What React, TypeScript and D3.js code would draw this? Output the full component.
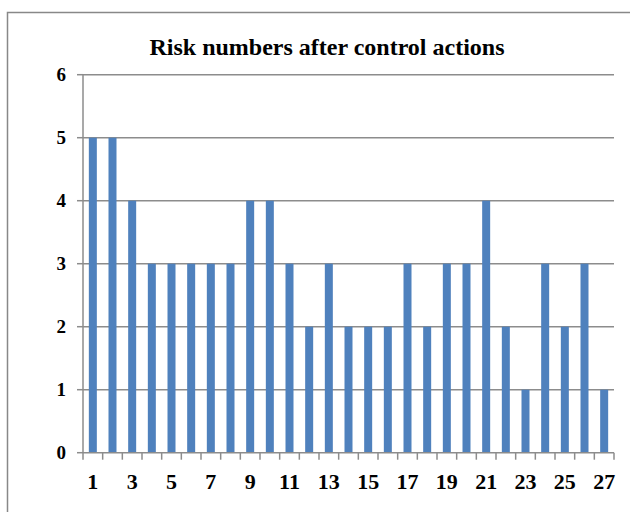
import React from "react";
import * as d3 from "d3";

const categories: number[] = Array.from({ length: 27 }, (_, i) => i + 1);
const riskValues: number[] = [5, 5, 4, 3, 3, 3, 3, 3, 4, 4, 3, 2, 3, 2, 2, 2, 3, 2, 3, 3, 4, 2, 1, 3, 2, 3, 1];
const yTicks: number[] = [0, 1, 2, 3, 4, 5, 6];
const title = "Risk numbers after control actions";

export default function App() {
  const W = 630, H = 512;
  const left = 83, right = 614, top = 74.7, bottom = 452.7;
  const xb = d3.scaleBand<number>().domain(categories).range([left, right]);
  const y = d3.scaleLinear().domain([0, 6]).range([bottom, top]);
  const font = "'Liberation Serif', 'Times New Roman', serif";
  return (
    <svg width={W} height={H} style={{ position: "absolute", left: 0, top: 0 }}>
      <rect x={0} y={0} width={W} height={H} fill="#fff" />
      <path d={`M7.5,${H} V12.5 H${W}`} fill="none" stroke="#888" strokeWidth={1.5} />
      <text x={327} y={55} textAnchor="middle" fontFamily={font} fontWeight="bold" fontSize={24}>{title}</text>
      {yTicks.map((t) => (
        <g key={t}>
          {t > 0 && <line x1={left} x2={right} y1={y(t)} y2={y(t)} stroke="#8c8c8c" strokeWidth={1.5} />}
          <line x1={left - 6} x2={left} y1={y(t)} y2={y(t)} stroke="#8c8c8c" strokeWidth={1.5} />
          <text x={66} y={y(t) + 6} textAnchor="end" fontFamily={font} fontWeight="bold" fontSize={19}>{t}</text>
        </g>
      ))}
      {categories.map((c, i) => (
        <rect key={c} x={xb(c)! + xb.bandwidth() / 2 - 4} y={y(riskValues[i])} width={8} height={bottom - y(riskValues[i])} fill="#4F81BD" />
      ))}
      <line x1={left} x2={left} y1={top} y2={bottom} stroke="#8c8c8c" strokeWidth={1.5} />
      <line x1={left} x2={right} y1={bottom} y2={bottom} stroke="#8c8c8c" strokeWidth={1.5} />
      {[...categories.map((c) => xb(c)!), right].map((px, i) => (
        <line key={i} x1={px} x2={px} y1={bottom} y2={bottom + 7} stroke="#8c8c8c" strokeWidth={1.5} />
      ))}
      {categories.filter((c) => c % 2 === 1).map((c) => (
        <text key={c} x={xb(c)! + xb.bandwidth() / 2} y={489} textAnchor="middle" fontFamily={font} fontWeight="bold" fontSize={22}>{c}</text>
      ))}
    </svg>
  );
}
